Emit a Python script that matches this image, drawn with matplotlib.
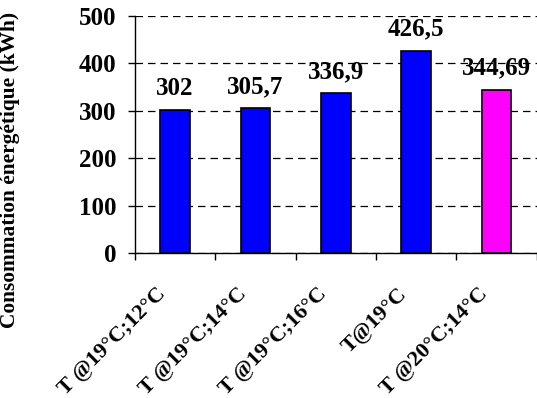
import numpy as np
import matplotlib
matplotlib.use('Agg')
import matplotlib.pyplot as plt
from matplotlib.transforms import ScaledTranslation

categories = ["T @19°C;12°C", "T @19°C;14°C", "T @19°C;16°C", "T@19°C", "T @20°C;14°C"]
values = [302, 305.7, 336.9, 426.5, 344.69]
value_labels = ["302", "305,7", "336,9", "426,5", "344,69"]
colors = ["#0000FF", "#0000FF", "#0000FF", "#0000FF", "#FF00FF"]

plt.rcParams['font.family'] = ['Liberation Serif', 'DejaVu Serif']
plt.rcParams['font.weight'] = 'bold'

fig = plt.figure(figsize=(5.37, 3.98), dpi=100)
ax = fig.add_axes([0.251, 0.364, 0.7486, 0.596])

x = np.arange(len(categories))
ax.bar(x, values, width=0.37, color=colors, edgecolor='black', linewidth=1.2, zorder=3)

for xi, v, lab in zip(x, values, value_labels):
    ax.annotate(lab, (xi, v), xytext=(0, 10), textcoords='offset pixels',
                ha='center', va='bottom', fontsize=18, fontweight='bold')

ax.set_ylim(0, 500)
ax.set_yticks(range(0, 501, 100))
ax.set_xlim(-0.5, 4.46)
ax.yaxis.grid(True, linestyle=(0, (6, 4)), color='black', linewidth=0.9, zorder=0)
ax.set_axisbelow(True)

# ticks between categories, labels drawn at the centers
ax.set_xticks(np.arange(-0.5, 5, 1.0))
ax.set_xticklabels([])
ax.tick_params(axis='x', which='major', length=5, width=1, direction='out')
ax.tick_params(axis='y', length=5, width=1, labelsize=18, pad=8)

shift = ScaledTranslation(-19 / 100, -31 / 100, fig.dpi_scale_trans)
for xi, cat in zip(x, categories):
    ax.text(xi, 0, cat, transform=ax.get_xaxis_transform() + shift,
            rotation=45, rotation_mode='anchor', ha='right', va='top',
            fontsize=16, fontweight='bold')

for s in ['top', 'right']:
    ax.spines[s].set_visible(False)
ax.spines['left'].set_linewidth(1)
ax.spines['bottom'].set_linewidth(1)

fig.text(10 / 537, 1 - 170 / 398, "Consommation énergétique (kWh)", rotation=90,
         ha='center', va='center', fontsize=15.4, fontweight='bold')

fig.savefig("out.png", dpi=100)
